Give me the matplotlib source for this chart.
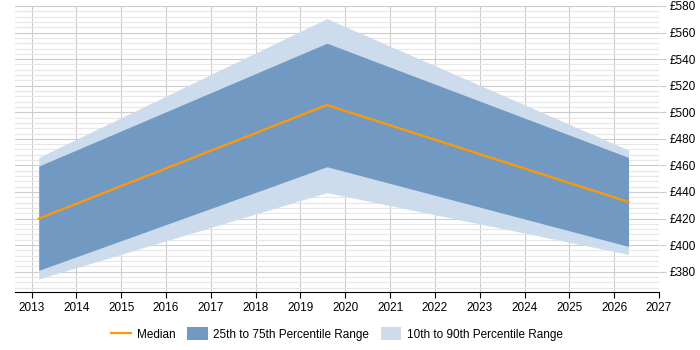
import matplotlib.pyplot as plt
from matplotlib.ticker import MultipleLocator, FuncFormatter

plt.rcParams['font.family'] = ['Liberation Sans', 'DejaVu Sans']

# Data
years = [2013.16, 2019.59, 2026.32]
p10 = [374.5, 439.5, 393]
p25 = [381, 459, 399]
median = [420, 505.5, 432.5]
p75 = [459.5, 552, 466]
p90 = [466, 570.5, 471.5]

fig = plt.figure(figsize=(7, 3.5), dpi=100)
ax = fig.add_axes([15/700, 1 - 292/350, 644/700, 286/350])

ax.fill_between(years, p10, p90, color='#ccdcec', lw=0, zorder=2,
                label='10th to 90th Percentile Range')
ax.fill_between(years, p25, p75, color='#7299c2', lw=0, zorder=3,
                label='25th to 75th Percentile Range')
ax.plot(years, median, color='#ff9900', lw=1.6, zorder=4, label='Median')

ax.set_xlim(2012.63, 2027)
ax.set_ylim(364.7, 580)

ax.xaxis.set_major_locator(MultipleLocator(1))
ax.yaxis.set_major_locator(MultipleLocator(20))
ax.yaxis.set_minor_locator(MultipleLocator(4))
ax.yaxis.set_major_formatter(FuncFormatter(lambda v, p: f'£{v:.0f}'))
ax.yaxis.tick_right()

ax.grid(which='major', axis='both', color='#cccccc', lw=0.8, zorder=0)
ax.grid(which='minor', axis='y', color='#e6e6e6', lw=0.8, zorder=0)
ax.set_axisbelow(True)

for s in ['left', 'top', 'right']:
    ax.spines[s].set_visible(False)
ax.spines['bottom'].set_color('#000000')
ax.tick_params(axis='x', length=4, labelsize=8.5, color='#000000', pad=3)
ax.tick_params(axis='y', which='major', length=5, labelsize=8.5, color='#cccccc', pad=3)
ax.tick_params(axis='y', which='minor', length=0)

h, l = ax.get_legend_handles_labels()
order = [2, 1, 0]
fig.legend([h[i] for i in order], [l[i] for i in order], loc='center',
           bbox_to_anchor=(337/700, 1 - 334/350), ncol=3, frameon=False, fontsize=8.5,
           handlelength=1.7, handleheight=1.2, handletextpad=0.5, columnspacing=1.0)

fig.savefig('out.png', dpi=100)
